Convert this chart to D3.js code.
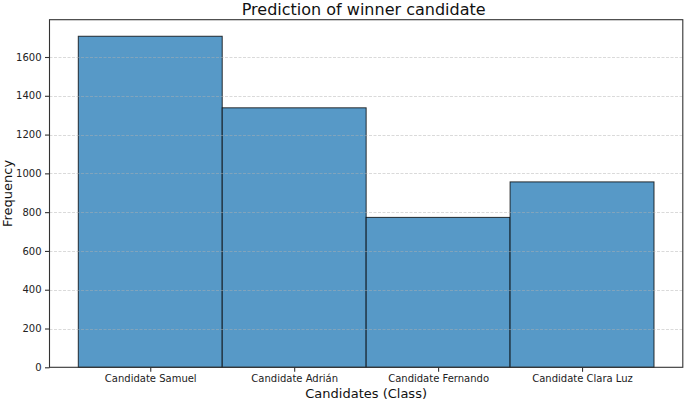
<!DOCTYPE html>
<html>
<head>
<meta charset="utf-8">
<script src="https://cdn.jsdelivr.net/npm/d3@7"></script>
<style>
  html, body { margin: 0; padding: 0; background: #fff; }
  svg { display: block; font-family: "DejaVu Sans", sans-serif; }
</style>
</head>
<body>
<svg id="chart" width="685" height="402"></svg>
<script>
const categories = ["Candidate Samuel", "Candidate Adrián", "Candidate Fernando", "Candidate Clara Luz"];
const frequencies = [1707, 1338, 773, 956];
const yTicks = [0, 200, 400, 600, 800, 1000, 1200, 1400, 1600];
const titleText = "Prediction of winner candidate";
const xLabelText = "Candidates (Class)";
const yLabelText = "Frequency";

(function () {
const svg = d3.select("#chart");
const mLeft = 49.5, mRight = 682.8, mTop = 19.7, mBottom = 367.3;

const x = d3.scaleLinear().domain([-0.7, categories.length - 0.3]).range([mLeft, mRight]);
const yMax = d3.max(frequencies) * 1.05;
const y = d3.scaleLinear().domain([0, yMax]).range([mBottom, mTop]);

// bars
svg.append("g").selectAll("rect").data(frequencies).join("rect")
  .attr("x", (d, i) => x(i - 0.5))
  .attr("y", d => y(d))
  .attr("width", (d, i) => x(i + 0.5) - x(i - 0.5))
  .attr("height", d => y(0) - y(d))
  .attr("fill", "#5799c7")
  .attr("stroke", "#000")
  .attr("stroke-opacity", 0.78)
  .attr("stroke-width", 1);

// grid (drawn on top, light dashed)
svg.append("g").selectAll("line").data(yTicks.filter(t => t > 0)).join("line")
  .attr("x1", mLeft).attr("x2", mRight)
  .attr("y1", d => Math.round(y(d)) + 0.5).attr("y2", d => Math.round(y(d)) + 0.5)
  .attr("stroke", "#b0b0b0")
  .attr("stroke-opacity", 0.6)
  .attr("stroke-width", 0.8)
  .attr("stroke-dasharray", "3,1.5");

// frame
svg.append("rect")
  .attr("x", mLeft).attr("y", mTop)
  .attr("width", mRight - mLeft).attr("height", mBottom - mTop)
  .attr("fill", "none").attr("stroke", "#333").attr("stroke-width", 1.1);

// y axis
const yAxis = d3.axisLeft(y).tickValues(yTicks).tickSize(4.5).tickPadding(3.5).tickFormat(d3.format("d"));
const gy = svg.append("g").attr("transform", `translate(${mLeft},0)`).call(yAxis);
gy.select(".domain").remove();
gy.selectAll(".tick line").attr("stroke", "#333").attr("stroke-width", 1.1);
gy.selectAll(".tick text").attr("font-size", 10).attr("fill", "#222").attr("font-family", "DejaVu Sans");

// x axis
const xAxis = d3.axisBottom(x).tickValues(d3.range(categories.length))
  .tickFormat(i => categories[i]).tickSize(4.5).tickPadding(3.5);
const gx = svg.append("g").attr("transform", `translate(0,${mBottom})`).call(xAxis);
gx.select(".domain").remove();
gx.selectAll(".tick line").attr("stroke", "#333").attr("stroke-width", 1.1);
gx.selectAll(".tick text").attr("font-size", 10).attr("fill", "#222").attr("font-family", "DejaVu Sans");

// title
svg.append("text").attr("x", (mLeft + mRight) / 2 - 2.5).attr("y", 15)
  .attr("text-anchor", "middle").attr("font-size", 16).attr("fill", "#111")
  .text(titleText);

// x label
svg.append("text").attr("x", (mLeft + mRight) / 2).attr("y", 398)
  .attr("text-anchor", "middle").attr("font-size", 13).attr("fill", "#111")
  .text(xLabelText);

// y label
svg.append("text").attr("transform", `translate(12,${(mTop + mBottom) / 2}) rotate(-90)`)
  .attr("text-anchor", "middle").attr("font-size", 13).attr("fill", "#111")
  .text(yLabelText);
})();
</script>
</body>
</html>
